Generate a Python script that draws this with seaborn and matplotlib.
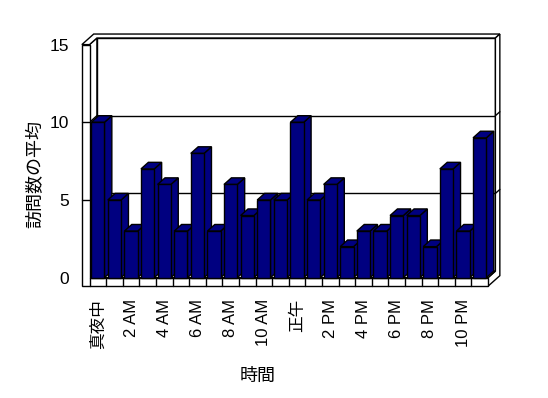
import matplotlib
matplotlib.use("Agg")
import matplotlib.pyplot as plt
from matplotlib.patches import Polygon
import seaborn as sns

# data
hours = list(range(24))
visits = [10, 5, 3, 7, 6, 3, 8, 3, 6, 4, 5, 5,
          10, 5, 6, 2, 3, 3, 4, 4, 2, 7, 3, 9]
tick_pos = list(range(0, 24, 2))
tick_labels = ["真夜中", "2 AM", "4 AM", "6 AM", "8 AM", "10 AM",
               "正午", "2 PM", "4 PM", "6 PM", "8 PM", "10 PM"]
y_ticks = [0, 5, 10, 15]

sns.set_style("white")
plt.rcParams['font.family'] = ['Liberation Sans', 'Noto Sans CJK JP']
plt.rcParams['text.color'] = "black"
plt.rcParams['xtick.color'] = "black"
plt.rcParams['ytick.color'] = "black"

fig = plt.figure(figsize=(5.48, 3.98), dpi=100)
ax = fig.add_axes([89.5 / 548, (398 - 277.7) / 398, 398.5 / 548, 233.1 / 398])
ax.set_facecolor("none")

# 3d look: depth offset in data units
dx, dy = 0.446, 0.425
wl = 0.46      # left wall thickness
fh = 0.55      # floor thickness
D = 1.6        # depth incl. back wall thickness
x0, x1 = -0.5, len(hours) - 0.5
ymax = 15


def poly(pts, z, fc="white"):
    p = Polygon(pts, closed=True, facecolor=fc, edgecolor="black",
                linewidth=1, zorder=z, clip_on=False)
    ax.add_patch(p)


def line(xs, ys, z):
    ax.plot(xs, ys, color="black", lw=1, zorder=z, clip_on=False)


# bars first so the container only holds them
sns.barplot(x=hours, y=visits, color="#000080", saturation=1, width=0.8,
            edgecolor="black", linewidth=1, ax=ax)
bars = list(ax.containers[0])

# back wall + gridlines
poly([(x0 + dx, dy), (x1 + dx, dy), (x1 + dx, ymax + dy), (x0 + dx, ymax + dy)], 1)
for v in y_ticks[1:-1]:
    line([x0 + dx, x1 + dx], [v + dy, v + dy], 1.5)
# left wall inner face
poly([(x0, 0), (x0 + dx, dy), (x0 + dx, ymax + dy), (x0, ymax)], 1.6)
for v in y_ticks[1:-1]:
    line([x0, x0 + dx], [v, v + dy], 1.7)
# top of walls
poly([(x0 - wl, ymax), (x0, ymax), (x0 + dx, ymax + dy), (x1 + dx, ymax + dy),
      (x1 + D * dx, ymax + D * dy), (x0 - wl + D * dx, ymax + D * dy)], 1.8)
# right end face
poly([(x1, 0), (x1, -fh), (x1 + D * dx, -fh + D * dy), (x1 + D * dx, ymax + D * dy),
      (x1 + dx, ymax + dy), (x1 + dx, dy)], 1.8)
for v in y_ticks[1:-1]:
    line([x1 + dx, x1 + D * dx], [v + dy, v + D * dy], 1.9)
# floor top
poly([(x0, 0), (x1, 0), (x1 + dx, dy), (x0 + dx, dy)], 2)
# left wall front + floor front
poly([(x0 - wl, ymax), (x0, ymax), (x0, 0), (x1, 0), (x1, -fh), (x0 - wl, -fh)], 2)
for v in y_ticks[1:-1]:
    line([x0 - wl, x0], [v, v], 2.1)
for k in range(len(hours)):
    line([x0 + k, x0 + k], [0, -fh], 2.1)

# side and top faces for each bar
navy = "#000080"
for k, bar in enumerate(bars):
    bx, bw, bh = bar.get_x(), bar.get_width(), bar.get_height()
    bar.set_zorder(11 + 2 * k)
    bar.set_clip_on(False)
    poly([(bx + bw, 0), (bx + bw + dx, dy), (bx + bw + dx, bh + dy), (bx + bw, bh)], 10 + 2 * k, navy)
    poly([(bx, bh), (bx + bw, bh), (bx + bw + dx, bh + dy), (bx + dx, bh + dy)], 10 + 2 * k, navy)

ax.set_xlim(x0, x1)
ax.set_ylim(0, ymax)
for s in ax.spines.values():
    s.set_visible(False)
ax.set_xticks(tick_pos)
ax.set_xticklabels(tick_labels, rotation=90, fontsize=12, color="black")
ax.set_yticks(y_ticks)
ax.set_yticklabels([str(v) for v in y_ticks], fontsize=12.5, color="black")
ax.tick_params(axis="x", length=0, pad=15.3)
ax.tick_params(axis="y", length=0, pad=15)
ax.set_xlabel("")
ax.set_ylabel("")

fig.text(258 / 548, 1 - 376 / 398, "時間", ha="center", va="center",
         fontsize=13, color="black")
fig.text(36 / 548, 1 - 174 / 398, "訪問数の平均", ha="center", va="center",
         rotation=90, fontsize=13, color="black")

fig.savefig("out.png", dpi=100)
